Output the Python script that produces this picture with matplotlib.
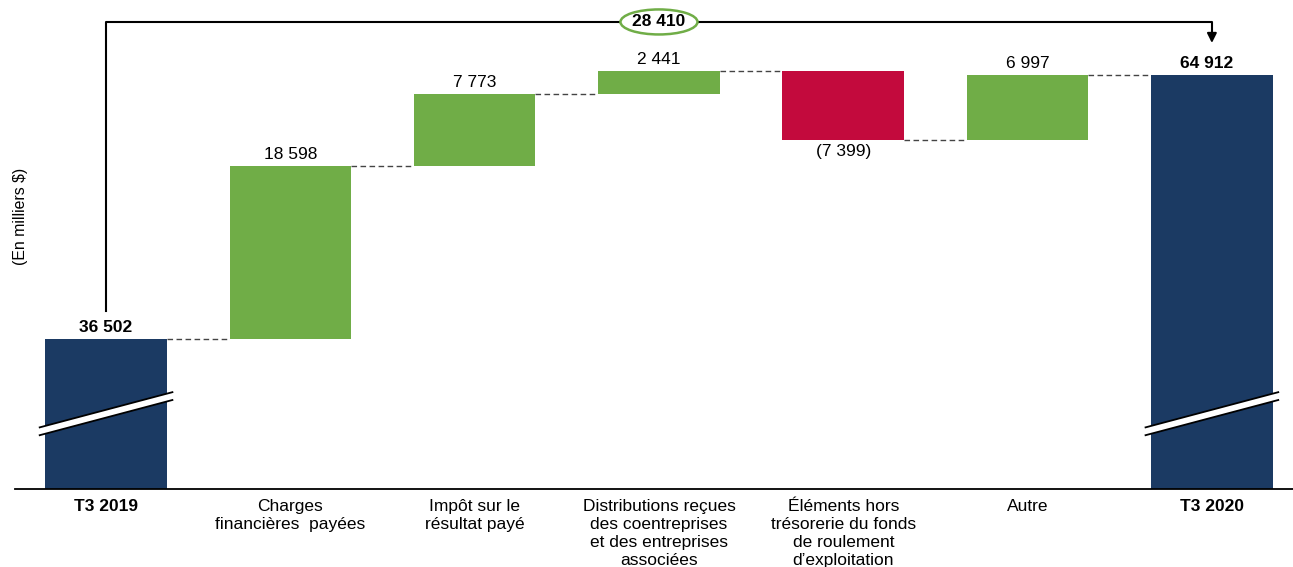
import numpy as np
import matplotlib
matplotlib.use("Agg")
import matplotlib.pyplot as plt
from matplotlib.patches import Polygon, Ellipse
import matplotlib.transforms as mtransforms

plt.rcParams['font.family'] = ['Liberation Sans', 'DejaVu Sans']

categories = ["T3 2019", "Charges\nfinancières  payées", "Impôt sur le\nrésultat payé",
              "Distributions reçues\ndes coentreprises\net des entreprises\nassociées",
              "Éléments hors\ntrésorerie du fonds\nde roulement\nd’exploitation",
              "Autre", "T3 2020"]
start_total = 36502
changes = [18598, 7773, 2441, -7399, 6997]
end_total = 64912
value_labels = ["36 502", "18 598", "7 773", "2 441", "(7 399)", "6 997", "64 912"]
bracket_label = "28 410"

navy = "#1B3A63"
green = "#70AD47"
red = "#C30A3D"

fig = plt.figure(figsize=(12.93, 5.67), dpi=100)
ax = fig.add_axes([15 / 1293, 78 / 567, 1 - 15 / 1293, 489 / 567])
ymin, ymax = 20373, 72950
ax.set_ylim(ymin, ymax)
ax.set_xlim(-0.494, 6.44)
w = 0.66
fs = 12.5

x = np.arange(len(categories))
# running totals
levels = [start_total]
for c in changes:
    levels.append(levels[-1] + c)

# totals
ax.bar(x[0], start_total, width=w, bottom=0, color=navy, zorder=2)
ax.bar(x[-1], end_total, width=w, bottom=0, color=navy, zorder=2)

# changes
for i, c in enumerate(changes):
    base = levels[i]
    col = green if c >= 0 else red
    ax.bar(x[i + 1], c, width=w, bottom=base, color=col, zorder=2)

# connectors
for i in range(len(levels)):
    ax.plot([x[i] + w / 2, x[i + 1] - w / 2], [levels[i], levels[i]],
            color="#444444", lw=1, ls=(0, (4, 2.5)), zorder=1)

# value labels
off = 450
ax.text(x[0], start_total + off, value_labels[0], ha="center", va="bottom",
        fontsize=fs, fontweight="bold")
for i, c in enumerate(changes):
    top = max(levels[i], levels[i + 1])
    bot = min(levels[i], levels[i + 1])
    if c >= 0:
        ax.text(x[i + 1], top + off, value_labels[i + 1], ha="center", va="bottom", fontsize=fs)
    else:
        ax.text(x[i + 1], bot - off, value_labels[i + 1], ha="center", va="top", fontsize=fs)
ax.text(x[-1] - 0.03, end_total + off, value_labels[-1], ha="center", va="bottom",
        fontsize=fs, fontweight="bold")

# axis break marks on total bars
trans = mtransforms.blended_transform_factory(ax.transData, ax.transAxes)
for xi in (x[0], x[-1]):
    x0, x1 = xi - w / 2 - 0.03, xi + w / 2 + 0.03
    yl, yr, th = 0.110, 0.182, 0.016
    ax.add_patch(Polygon([[x0, yl], [x1, yr], [x1, yr + th], [x0, yl + th]],
                         closed=True, facecolor="white", edgecolor="none",
                         transform=trans, zorder=3, clip_on=False))
    ax.plot([x0, x1], [yl, yr], color="black", lw=1.3, transform=trans, zorder=4)
    ax.plot([x0, x1], [yl + th, yr + th], color="black", lw=1.3, transform=trans, zorder=4)

# bracket
ytop = 70590
ax.plot([x[0], x[0], x[-1], x[-1]], [start_total + 3000, ytop, ytop, 69000],
        color="black", lw=1.5, zorder=2, clip_on=False)
ax.annotate("", xy=(x[-1], 68330), xytext=(x[-1], 69300),
            arrowprops=dict(arrowstyle="-|>", color="black", lw=1.5, mutation_scale=14,
                            shrinkA=0, shrinkB=0))
ax.add_patch(Ellipse((x[3], ytop), 0.418, 2690, facecolor="white", edgecolor=green,
                     lw=1.8, zorder=5, clip_on=False))
ax.text(x[3], ytop, bracket_label, ha="center", va="center", fontsize=fs,
        fontweight="bold", zorder=6)

# axes styling
for s in ("top", "right", "left"):
    ax.spines[s].set_visible(False)
ax.spines["bottom"].set_linewidth(1.3)
ax.set_yticks([])
ax.set_xticks(x)
ax.set_xticklabels(categories, fontsize=fs, linespacing=1.27)
ax.tick_params(axis="x", length=0, pad=7)
for i in (0, len(categories) - 1):
    ax.get_xticklabels()[i].set_fontweight("bold")

fig.text(21 / 1293, 1 - 216 / 567, "(En milliers $)", rotation=90, ha="center",
         va="center", fontsize=11.4)

fig.savefig("out.png", dpi=100)
